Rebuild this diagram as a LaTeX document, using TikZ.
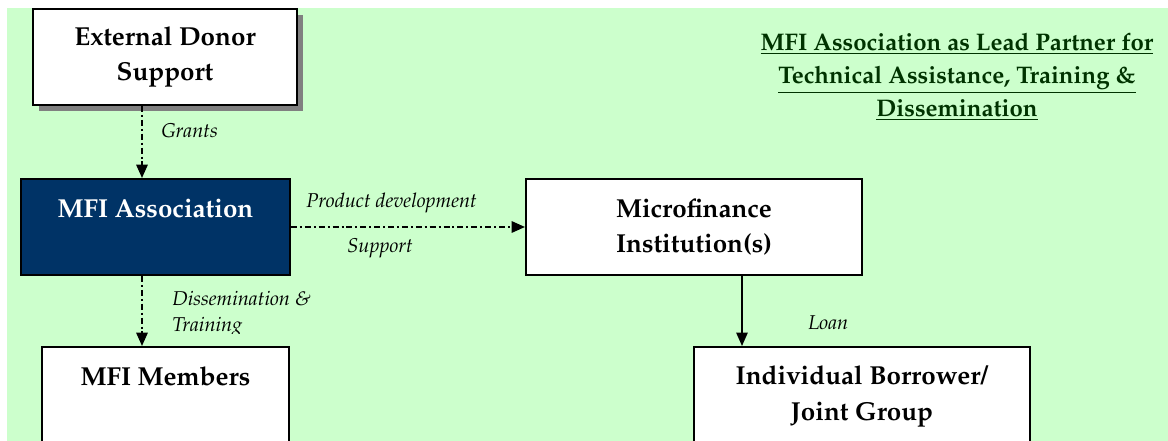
\documentclass[tikz,border=0pt]{standalone}
\usepackage[T1]{fontenc}
\usepackage{mathpazo}
\usepackage{tikz}
\usetikzlibrary{positioning,arrows.meta,calc,shadows}
\usepackage{xcolor}

\definecolor{bggreen}{HTML}{CCFFCC}
\definecolor{navy}{HTML}{003366}
\definecolor{titlegreen}{HTML}{003300}

\begin{document}
\begin{tikzpicture}[
  x=0.75pt, y=-0.75pt,
  >=Stealth,
  box/.style={draw=black, line width=1.5pt, fill=white, anchor=north west, inner sep=0pt, align=center,
    font=\bfseries\fontsize{19.5}{26.5}\selectfont},
  topbox/.style={box, text height=29.25pt, text depth=90pt},
  lbl/.style={font=\itshape\fontsize{15}{17}\selectfont, inner sep=0pt, anchor=west},
  flow/.style={line width=1.5pt, dash pattern=on 4.5pt off 2.2pt on 1.5pt off 2.2pt,
    -{Triangle[width=8.5pt,length=10pt]}},
  loanarr/.style={line width=1.2pt, -{Triangle[width=8.5pt,length=10pt]}}
]
  \clip (0,0) rectangle (1168,441);
  \fill[bggreen] (7,8) rectangle (1168,441);

  % boxes
  \node[box, minimum width=198pt, minimum height=72pt,
    drop shadow={shadow xshift=4.5pt, shadow yshift=-4.5pt, fill=black!50, opacity=1}]
    (donor) at (32,8) {External Donor\\Support};
  \node[box, fill=navy, text=white, minimum width=201.75pt, text height=29.25pt, text depth=42.75pt]
    (assoc) at (20,178) {MFI Association};
  \node[box, minimum width=252pt, minimum height=72pt] (mfi) at (525,178) {Microfinance\\Institution(s)};
  \node[topbox, minimum width=185.25pt] (members) at (41,346) {MFI Members};
  \node[box, minimum width=252pt, text height=28.5pt, text depth=90pt] (borrower) at (693,346)
    {\begin{tabular}[t]{@{}c@{}}Individual Borrower/\\Joint Group\end{tabular}};

  % heading
  \node[font=\bfseries\fontsize{18}{24.75}\selectfont, text=titlegreen, align=center, inner sep=0pt]
    (heading) at (957,77)
    {\underline{MFI Association as Lead Partner for}\\
     \underline{Technical Assistance, Training \&}\\
     \underline{Dissemination}};

  % connectors
  \draw[flow] ([xshift=-17.25pt]donor.south) -- ([xshift=-17.25pt]donor.south |- assoc.north);
  \draw[flow] (assoc.east) -- (mfi.west);
  \draw[flow] ([xshift=-10.125pt]assoc.south) -- ([xshift=-10.125pt]assoc.south |- members.north);
  \draw[loanarr] ([xshift=36pt]mfi.south) -- ([xshift=36pt]mfi.south |- borrower.north);

  % connector labels
  \node[lbl] (grants) at (161,131) {Grants};
  \node[lbl] (product) at (306,203) {Product development};
  \node[lbl] (support) at (347,248) {Support};
  \node[lbl] (dissem) at (172,298) {Dissemination \&};
  \begin{scope}
    \clip (160,310) rectangle (320,334);
    \node[lbl] (training) at (172,327) {Training};
  \end{scope}
  \node[lbl] (loan) at (808,323) {Loan};
\end{tikzpicture}
\end{document}
